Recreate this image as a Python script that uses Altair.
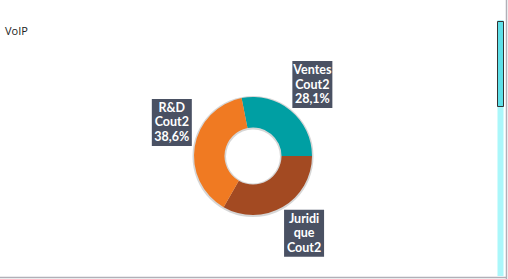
import altair as alt
import pandas as pd

# ---- data ----
categories = ["Ventes", "Juridique", "R&D"]
values = [28.1, 33.3, 38.6]
labels = ["Ventes\nCout2\n28,1%", "Juridi\nque\nCout2", "R&D\nCout2\n38,6%"]
colors = ["#009fa3", "#a34a22", "#f07a22"]
title_text = "VoIP"

df = pd.DataFrame({
    "cat": categories,
    "value": values,
    "label": labels,
    "order": list(range(len(categories))),
})

CX, CY = 253, 156
START = -0.195
ANCHOR_R = 62
BW, BH = 40, 47

base = alt.Chart(df).transform_window(
    cum="sum(value)", sort=[alt.SortField("order")],
    frame=[None, 0]
).transform_joinaggregate(
    total="sum(value)"
).transform_calculate(
    t0=f"{START} + 2*PI*(datum.cum - datum.value)/datum.total",
    t1=f"{START} + 2*PI*datum.cum/datum.total",
).transform_calculate(
    mid="(datum.t0 + datum.t1)/2"
).transform_calculate(
    ax=f"{CX} + {ANCHOR_R}*sin(datum.mid)",
    ay=f"{CY} - {ANCHOR_R}*cos(datum.mid)",
).transform_calculate(
    bx=f"sin(datum.mid) > 0 ? datum.ax : datum.ax - {BW}",
    by=f"cos(datum.mid) > 0 ? datum.ay - {BH} : datum.ay",
).transform_calculate(
    bx2=f"datum.bx + {BW}",
    by2=f"datum.by + {BH}",
    tx=f"datum.bx + {BW/2}",
    ty="datum.by + 9",
)

arcs = base.mark_arc(innerRadius=28.5, outerRadius=59).encode(
    theta=alt.Theta("t0:Q", scale=None),
    theta2="t1:Q",
    x=alt.value(CX), y=alt.value(CY),
    color=alt.Color("cat:N", scale=alt.Scale(domain=categories, range=colors), legend=None),
)

boxes = base.mark_rect(color="#4a5163").encode(
    x=alt.X("bx:Q", scale=None), x2="bx2:Q",
    y=alt.Y("by:Q", scale=None), y2="by2:Q",
)

texts = base.mark_text(
    color="white", font="Lato", fontSize=12.5, fontWeight="bold",
    lineBreak="\n", lineHeight=14.5, align="center", baseline="middle",
).encode(
    x=alt.X("tx:Q", scale=None),
    y=alt.Y("ty:Q", scale=None),
    text="label:N",
)

one = alt.Data(values=[{"k": 1}])

shadow = alt.Chart(one).mark_arc(innerRadius=27, outerRadius=60.5, color="#777", opacity=0.3).encode(
    theta=alt.value(0), theta2=alt.value(6.2832),
    x=alt.value(CX), y=alt.value(CY + 0.5),
)

title = alt.Chart(one).mark_text(
    text=title_text, align="left", baseline="middle", font="Open Sans",
    fontSize=11, color="#222"
).encode(x=alt.value(5), y=alt.value(31.5))

track = alt.Chart(one).mark_rect(color="#aaf7fa").encode(
    x=alt.value(497.5), x2=alt.value(503.5), y=alt.value(20), y2=alt.value(276))
thumb = alt.Chart(one).mark_rect(color="#5ee0e8", stroke="#333", strokeWidth=1).encode(
    x=alt.value(497.5), x2=alt.value(503.5), y=alt.value(21.5), y2=alt.value(106.5))
right_border = alt.Chart(one).mark_rule(color="#b0b0b8", strokeWidth=1.5).encode(
    x=alt.value(506.5), y=alt.value(0), y2=alt.value(279))
bottom_border = alt.Chart(one).mark_rule(color="#b0b0b8", strokeWidth=1.5).encode(
    y=alt.value(277.5), x=alt.value(0), x2=alt.value(507))

chart = alt.layer(
    shadow, arcs, boxes, texts, title, track, thumb, right_border, bottom_border
).properties(
    width=508, height=279, autosize="none", padding=0, background="white"
).configure_view(strokeWidth=0)

chart.save("out.html", embed_options={"renderer": "svg", "actions": False})
